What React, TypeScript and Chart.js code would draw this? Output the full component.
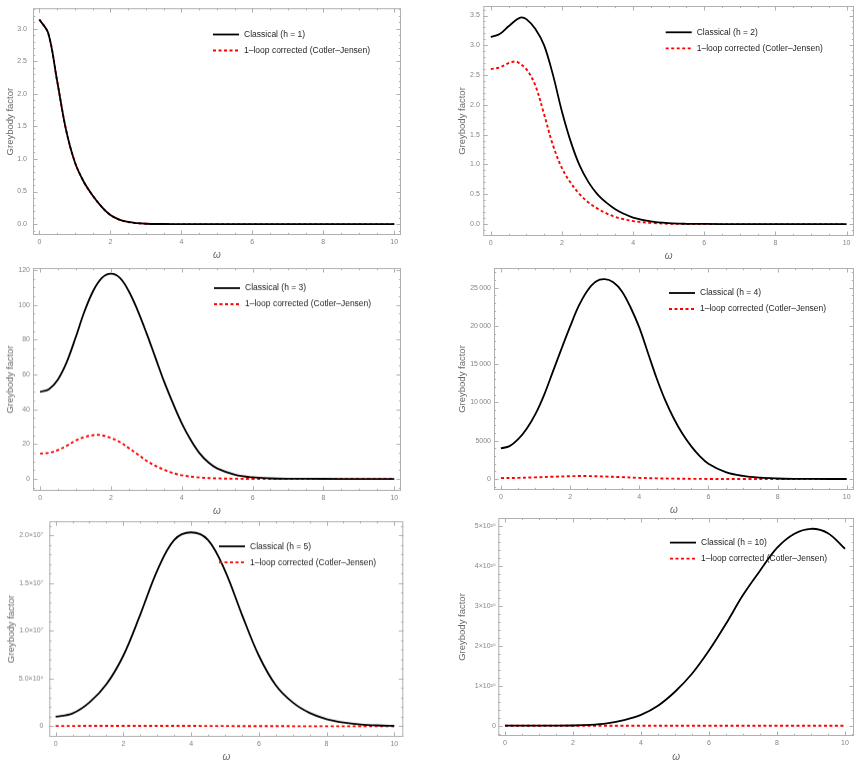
import React, { useEffect, useRef } from "react";
import { Chart, registerables } from "chart.js";

Chart.register(...registerables);

const FONT_FAMILY = "'Liberation Sans', Arial, Helvetica, sans-serif";

// ---------- shared axis data ----------
const xTickValues = [0, 2, 4, 6, 8, 10];
const xTickLabels = ["0", "2", "4", "6", "8", "10"];
const classicalPrefix = "Classical (h = ";
const loopLabel = "1\u2013loop corrected (Cotler\u2013Jensen)";

// ---------- h = 1 ----------
const omegaH1 = [0, 0.25, 0.5, 0.75, 1, 1.25, 1.5, 1.75, 2, 2.25, 2.5, 2.75, 3, 3.5, 4, 5, 6, 7, 8, 9, 10];
const classicalH1 = [3.14, 2.93, 2.2, 1.45, 0.95, 0.65, 0.44, 0.27, 0.14, 0.07, 0.033, 0.015, 0.006, 0.0015, 0.0003, 0, 0, 0, 0, 0, 0];
const loopH1 = [3.14, 2.93, 2.2, 1.45, 0.95, 0.65, 0.44, 0.27, 0.14, 0.07, 0.033, 0.015, 0.006, 0.0015, 0.0003, 0, 0, 0, 0, 0, 0];
const yTicksH1 = [0, 0.5, 1, 1.5, 2, 2.5, 3];
const yLabelsH1 = ["0.0", "0.5", "1.0", "1.5", "2.0", "2.5", "3.0"];

// ---------- h = 2 ----------
const omegaClassicalH2 = [0, 0.25, 0.5, 0.75, 0.86, 1, 1.25, 1.5, 1.75, 2, 2.25, 2.5, 2.75, 3, 3.25, 3.5, 3.75, 4, 4.5, 5, 5.5, 6, 7, 8, 9, 10];
const classicalH2 = [3.14, 3.19, 3.32, 3.44, 3.47, 3.44, 3.28, 3.0, 2.5, 1.89, 1.38, 0.98, 0.7, 0.5, 0.36, 0.25, 0.17, 0.11, 0.045, 0.016, 0.005, 0.002, 0, 0, 0, 0];
const omegaLoopH2 = [0, 0.25, 0.5, 0.67, 0.75, 1, 1.25, 1.5, 1.75, 2, 2.25, 2.5, 2.75, 3, 3.25, 3.5, 3.75, 4, 4.5, 5, 5.5, 6, 7, 8, 9, 10];
const loopH2 = [2.6, 2.63, 2.7, 2.73, 2.72, 2.6, 2.33, 1.84, 1.32, 0.94, 0.69, 0.5, 0.36, 0.26, 0.18, 0.12, 0.08, 0.05, 0.02, 0.006, 0.002, 0, 0, 0, 0, 0];
const yTicksH2 = [0, 0.5, 1, 1.5, 2, 2.5, 3, 3.5];
const yLabelsH2 = ["0.0", "0.5", "1.0", "1.5", "2.0", "2.5", "3.0", "3.5"];

// ---------- h = 3 ----------
const omegaClassicalH3 = [0, 0.25, 0.5, 0.75, 1, 1.25, 1.5, 1.75, 2, 2.25, 2.5, 2.75, 3, 3.25, 3.5, 3.75, 4, 4.25, 4.5, 4.75, 5, 5.5, 6, 6.5, 7, 8, 9, 10];
const classicalH3 = [50, 51.5, 57, 67, 81, 96, 108, 115.5, 117.8, 115.5, 108, 97, 84, 70, 56, 43.5, 32, 22.5, 14.8, 9.5, 6, 2.4, 0.9, 0.3, 0.1, 0.01, 0, 0];
const omegaLoopH3 = [0, 0.25, 0.5, 0.75, 1, 1.25, 1.5, 1.6, 1.75, 2, 2.25, 2.5, 2.75, 3, 3.25, 3.5, 3.75, 4, 4.5, 5, 5.5, 6, 7, 8, 9, 10];
const loopH3 = [14.5, 15, 16.5, 19, 22, 24, 25.1, 25.3, 25, 23.5, 21.2, 17.8, 14.2, 10.5, 7.6, 5.2, 3.4, 2.1, 0.8, 0.3, 0.1, 0.03, 0, 0, 0, 0];
const yTicksH3 = [0, 20, 40, 60, 80, 100, 120];
const yLabelsH3 = ["0", "20", "40", "60", "80", "100", "120"];

// ---------- h = 4 ----------
const omegaClassicalH4 = [0, 0.25, 0.5, 0.75, 1, 1.25, 1.5, 1.75, 2, 2.25, 2.5, 2.75, 3, 3.25, 3.5, 3.75, 4, 4.25, 4.5, 4.75, 5, 5.25, 5.5, 5.75, 6, 6.5, 7, 7.5, 8, 8.5, 9, 10];
const classicalH4 = [4000, 4300, 5200, 6600, 8500, 11000, 14000, 17000, 19900, 22600, 24600, 25800, 26100, 25700, 24500, 22400, 19800, 16500, 13200, 10300, 7900, 5900, 4300, 3000, 2000, 900, 400, 170, 70, 25, 8, 0];
const omegaLoopH4 = [0, 0.5, 1, 1.5, 2, 2.3, 2.5, 3, 3.5, 4, 4.5, 5, 5.5, 6, 7, 8, 9, 10];
const loopH4 = [120, 150, 220, 300, 370, 390, 385, 330, 240, 150, 85, 45, 22, 10, 2, 0, 0, 0];
const yTicksH4 = [0, 5000, 10000, 15000, 20000, 25000];
const yLabelsH4 = ["0", "5000", "10\u2009000", "15\u2009000", "20\u2009000", "25\u2009000"];

// ---------- h = 5 ----------
const omegaClassicalH5 = [0, 0.5, 1, 1.5, 2, 2.5, 3, 3.5, 4, 4.5, 5, 5.5, 6, 6.5, 7, 7.5, 8, 8.5, 9, 9.5, 10];
const classicalH5 = [1.0e6, 1.35e6, 2.5e6, 4.4e6, 7.4e6, 11.7e6, 16.3e6, 19.5e6, 20.3e6, 19.5e6, 16.3e6, 11.7e6, 7.4e6, 4.3e6, 2.5e6, 1.4e6, 0.75e6, 0.4e6, 0.2e6, 0.1e6, 0.05e6];
const omegaLoopH5 = [0, 2, 4, 6, 8, 10];
const loopH5 = [3e4, 5e4, 4e4, 2e4, 5e3, 1e3];
const yTicksH5 = [0, 5e6, 1e7, 1.5e7, 2e7];
const yLabelsH5 = ["0", "5.0\u00d710\u2076", "1.0\u00d710\u2077", "1.5\u00d710\u2077", "2.0\u00d710\u2077"];

// ---------- h = 10 ----------
const omegaClassicalH10 = [0, 1, 2, 2.5, 3, 3.5, 4, 4.5, 5, 5.5, 6, 6.5, 7, 7.5, 8, 8.5, 9, 9.5, 10];
const classicalH10 = [0, 0.0005e26, 0.005e26, 0.02e26, 0.06e26, 0.14e26, 0.27e26, 0.5e26, 0.85e26, 1.3e26, 1.88e26, 2.55e26, 3.27e26, 3.88e26, 4.45e26, 4.8e26, 4.93e26, 4.82e26, 4.43e26];
const omegaLoopH10 = [0, 2, 4, 6, 8, 10];
const loopH10 = [0, 0, 0, 0, 0, 0];
const yTicksH10 = [0, 1e26, 2e26, 3e26, 4e26, 5e26];
const yLabelsH10 = ["0", "1\u00d710\u00b2\u2076", "2\u00d710\u00b2\u2076", "3\u00d710\u00b2\u2076", "4\u00d710\u00b2\u2076", "5\u00d710\u00b2\u2076"];

type Area = { l: number; t: number; r: number; b: number };
type PanelSpec = {
  h: number;
  omegaC: number[];
  classical: number[];
  omegaL: number[];
  loop: number[];
  yTicks: number[];
  yLabels: string[];
  yMinor: number;
  yMin: number;
  yMax: number;
  xMin: number;
  xMax: number;
  area: Area;
  cellLeft: number;
  cellWidth: number;
  yTitleX: number;
  yTickPad: number;
  xTitleOffset: number;
  legend: { dx: number; dy: number };
};

const panels: PanelSpec[] = [
  {
    h: 1, omegaC: omegaH1, classical: classicalH1, omegaL: omegaH1, loop: loopH1,
    yTicks: yTicksH1, yLabels: yLabelsH1, yMinor: 0.1, yMin: -0.167, yMax: 3.315,
    xMin: -0.18, xMax: 10.19, area: { l: 33, t: 6, r: 401, b: 235 }, cellLeft: 0, cellWidth: 430,
    yTitleX: 10, yTickPad: 6, xTitleOffset: 20, legend: { dx: 180, dy: 26.3 },
  },
  {
    h: 2, omegaC: omegaClassicalH2, classical: classicalH2, omegaL: omegaLoopH2, loop: loopH2,
    yTicks: yTicksH2, yLabels: yLabelsH2, yMinor: 0.1, yMin: -0.2, yMax: 3.66,
    xMin: -0.21, xMax: 10.21, area: { l: 483.3, t: 6, r: 854, b: 236 }, cellLeft: 430, cellWidth: 431,
    yTitleX: 32.3, yTickPad: 3.5, xTitleOffset: 20, legend: { dx: 182.4, dy: 26.3 },
  },
  {
    h: 3, omegaC: omegaClassicalH3, classical: classicalH3, omegaL: omegaLoopH3, loop: loopH3,
    yTicks: yTicksH3, yLabels: yLabelsH3, yMinor: 5, yMin: -6.9, yMax: 121.1,
    xMin: -0.2, xMax: 10.19, area: { l: 33, t: 268.3, r: 401, b: 491 }, cellLeft: 0, cellWidth: 430,
    yTitleX: 10.7, yTickPad: 3, xTitleOffset: 20, legend: { dx: 181, dy: 20 },
  },
  {
    h: 4, omegaC: omegaClassicalH4, classical: classicalH4, omegaL: omegaLoopH4, loop: loopH4,
    yTicks: yTicksH4, yLabels: yLabelsH4, yMinor: 1000, yMin: -1435, yMax: 27560,
    xMin: -0.2, xMax: 10.21, area: { l: 494, t: 267.7, r: 854, b: 490 }, cellLeft: 430, cellWidth: 431,
    yTitleX: 32.3, yTickPad: 3, xTitleOffset: 20, legend: { dx: 175, dy: 25 },
  },
  {
    h: 5, omegaC: omegaClassicalH5, classical: classicalH5, omegaL: omegaLoopH5, loop: loopH5,
    yTicks: yTicksH5, yLabels: yLabelsH5, yMinor: 1e6, yMin: -0.111e7, yMax: 2.146e7,
    xMin: -0.187, xMax: 10.266, area: { l: 49.3, t: 519.3, r: 403.3, b: 736.7 }, cellLeft: 0, cellWidth: 430,
    yTitleX: 11.7, yTickPad: 6, xTitleOffset: 20.6, legend: { dx: 169.7, dy: 25 },
  },
  {
    h: 10, omegaC: omegaClassicalH10, classical: classicalH10, omegaL: omegaLoopH10, loop: loopH10,
    yTicks: yTicksH10, yLabels: yLabelsH10, yMinor: 0.2e26, yMin: -0.258e26, yMax: 5.2e26,
    xMin: -0.196, xMax: 10.265, area: { l: 498.3, t: 517.7, r: 854, b: 736 }, cellLeft: 430, cellWidth: 431,
    yTitleX: 32.3, yTickPad: 2.5, xTitleOffset: 21.3, legend: { dx: 171.7, dy: 24.6 },
  },
];

const TOP_PAD = 8;
const BOTTOM_H = 32;
const FRAME_COLOR = "#b0b0b0";
const TICK_LABEL_COLOR = "#858585";
const TITLE_COLOR = "#6a6a6a";

const framePlugin = {
  id: "mmaFrame",
  afterDatasetsDraw(chart: any, _args: any, opts: any) {
    const { ctx, chartArea: a, scales } = chart;
    const xs = scales.x;
    const ys = scales.y;
    ctx.save();
    ctx.strokeStyle = FRAME_COLOR;
    ctx.lineWidth = 1;
    ctx.strokeRect(a.left + 0.5, a.top + 0.5, a.right - a.left - 1, a.bottom - a.top - 1);
    const seg = (x1: number, y1: number, x2: number, y2: number) => {
      ctx.beginPath();
      ctx.moveTo(x1, y1);
      ctx.lineTo(x2, y2);
      ctx.stroke();
    };
    const xMark = (v: number, len: number) => {
      const p = Math.round(xs.getPixelForValue(v)) + 0.5;
      if (p < a.left || p > a.right) return;
      seg(p, a.bottom, p, a.bottom - len);
      seg(p, a.top, p, a.top + len);
    };
    const yMark = (v: number, len: number) => {
      const p = Math.round(ys.getPixelForValue(v)) + 0.5;
      if (p < a.top || p > a.bottom) return;
      seg(a.left, p, a.left + len, p);
      seg(a.right, p, a.right - len, p);
    };
    const minorLoop = (min: number, max: number, step: number, fn: (v: number) => void) => {
      const start = Math.ceil(min / step);
      const end = Math.floor(max / step);
      for (let k = start; k <= end; k++) fn(k * step);
    };
    minorLoop(xs.min, xs.max, opts.xMinor, (v) => xMark(v, 2.2));
    minorLoop(ys.min, ys.max, opts.yMinor, (v) => yMark(v, 2.2));
    opts.xMajor.forEach((v: number) => xMark(v, 4.5));
    opts.yMajor.forEach((v: number) => yMark(v, 4.5));
    ctx.restore();
  },
};

const legendPlugin = {
  id: "insideLegend",
  afterDraw(chart: any, _args: any, opts: any) {
    const { ctx, chartArea: a } = chart;
    const x0 = a.left + opts.dx;
    const y0 = a.top + opts.dy;
    chart.data.datasets.forEach((ds: any, i: number) => {
      const y = y0 + i * 16;
      ctx.save();
      ctx.strokeStyle = ds.borderColor;
      ctx.lineWidth = 1.8;
      ctx.setLineDash(ds.borderDash || []);
      ctx.beginPath();
      ctx.moveTo(x0, y);
      ctx.lineTo(x0 + 26, y);
      ctx.stroke();
      ctx.setLineDash([]);
      ctx.fillStyle = "#1e1e1e";
      ctx.font = `8.5px ${FONT_FAMILY}`;
      ctx.textBaseline = "middle";
      ctx.textAlign = "left";
      ctx.fillText(ds.label, x0 + 31, y);
      ctx.restore();
    });
  },
};

function PanelChart({ spec }: { spec: PanelSpec }) {
  const ref = useRef<HTMLCanvasElement>(null);
  const canvasTop = spec.area.t - TOP_PAD;
  const canvasHeight = spec.area.b + BOTTOM_H - canvasTop;

  useEffect(() => {
    const titleFont = 9.5;
    const xTitleFont = 10;
    const chart = new Chart(ref.current as HTMLCanvasElement, {
      type: "line",
      data: {
        datasets: [
          {
            label: classicalPrefix + spec.h + ")",
            data: spec.omegaC.map((x, i) => ({ x, y: spec.classical[i] })),
            borderColor: "#000000",
            borderWidth: 1.8,
            pointRadius: 0,
            fill: false,
            tension: 0.35,
          },
          {
            label: loopLabel,
            data: spec.omegaL.map((x, i) => ({ x, y: spec.loop[i] })),
            borderColor: "#ff0000",
            borderWidth: 1.9,
            borderDash: [3, 2.5],
            pointRadius: 0,
            fill: false,
            tension: 0.35,
          },
        ],
      } as any,
      options: {
        responsive: false,
        animation: false,
        events: [],
        layout: {
          padding: {
            left: 0,
            top: TOP_PAD,
            right: spec.cellLeft + spec.cellWidth - spec.area.r,
            bottom: 0,
          },
        },
        plugins: {
          legend: { display: false },
          tooltip: { enabled: false },
          mmaFrame: { xMajor: xTickValues, xMinor: 0.5, yMajor: spec.yTicks, yMinor: spec.yMinor },
          insideLegend: spec.legend,
        } as any,
        scales: {
          x: {
            type: "linear",
            min: spec.xMin,
            max: spec.xMax,
            afterFit: (s: any) => {
              s.height = BOTTOM_H;
            },
            afterBuildTicks: (s: any) => {
              s.ticks = xTickValues.map((v) => ({ value: v }));
            },
            ticks: {
              autoSkip: false,
              maxRotation: 0,
              padding: 3,
              color: TICK_LABEL_COLOR,
              font: { size: 7, family: FONT_FAMILY },
              callback: (_v: any, i: number) => xTickLabels[i],
            },
            grid: { display: false, drawTicks: false },
            border: { display: false },
            title: {
              display: true,
              text: "\u03c9",
              color: TITLE_COLOR,
              font: { size: xTitleFont, style: "italic", family: FONT_FAMILY },
              padding: { top: 0, bottom: BOTTOM_H - spec.xTitleOffset - (xTitleFont * 1.2) / 2 },
            },
          },
          y: {
            type: "linear",
            min: spec.yMin,
            max: spec.yMax,
            afterFit: (s: any) => {
              s.width = spec.area.l - spec.cellLeft;
            },
            afterBuildTicks: (s: any) => {
              s.ticks = spec.yTicks.map((v) => ({ value: v }));
            },
            ticks: {
              autoSkip: false,
              padding: spec.yTickPad,
              color: TICK_LABEL_COLOR,
              font: { size: 7, family: FONT_FAMILY },
              callback: (_v: any, i: number) => spec.yLabels[i],
            },
            grid: { display: false, drawTicks: false },
            border: { display: false },
            title: {
              display: true,
              text: "Greybody factor",
              color: TITLE_COLOR,
              font: { size: titleFont, family: FONT_FAMILY },
              padding: { top: spec.yTitleX - (titleFont * 1.2) / 2, bottom: 0 },
            },
          },
        },
      } as any,
      plugins: [framePlugin as any, legendPlugin as any],
    });
    return () => chart.destroy();
  }, [spec]);

  return (
    <canvas
      ref={ref}
      width={spec.cellWidth}
      height={canvasHeight}
      style={{
        position: "absolute",
        left: spec.cellLeft,
        top: canvasTop,
        width: spec.cellWidth,
        height: canvasHeight,
      }}
    />
  );
}

export default function App() {
  return (
    <div
      style={{
        position: "absolute",
        left: 0,
        top: 0,
        width: 861,
        height: 767,
        background: "#ffffff",
        overflow: "hidden",
      }}
    >
      {panels.map((p) => (
        <PanelChart key={p.h} spec={p} />
      ))}
    </div>
  );
}
